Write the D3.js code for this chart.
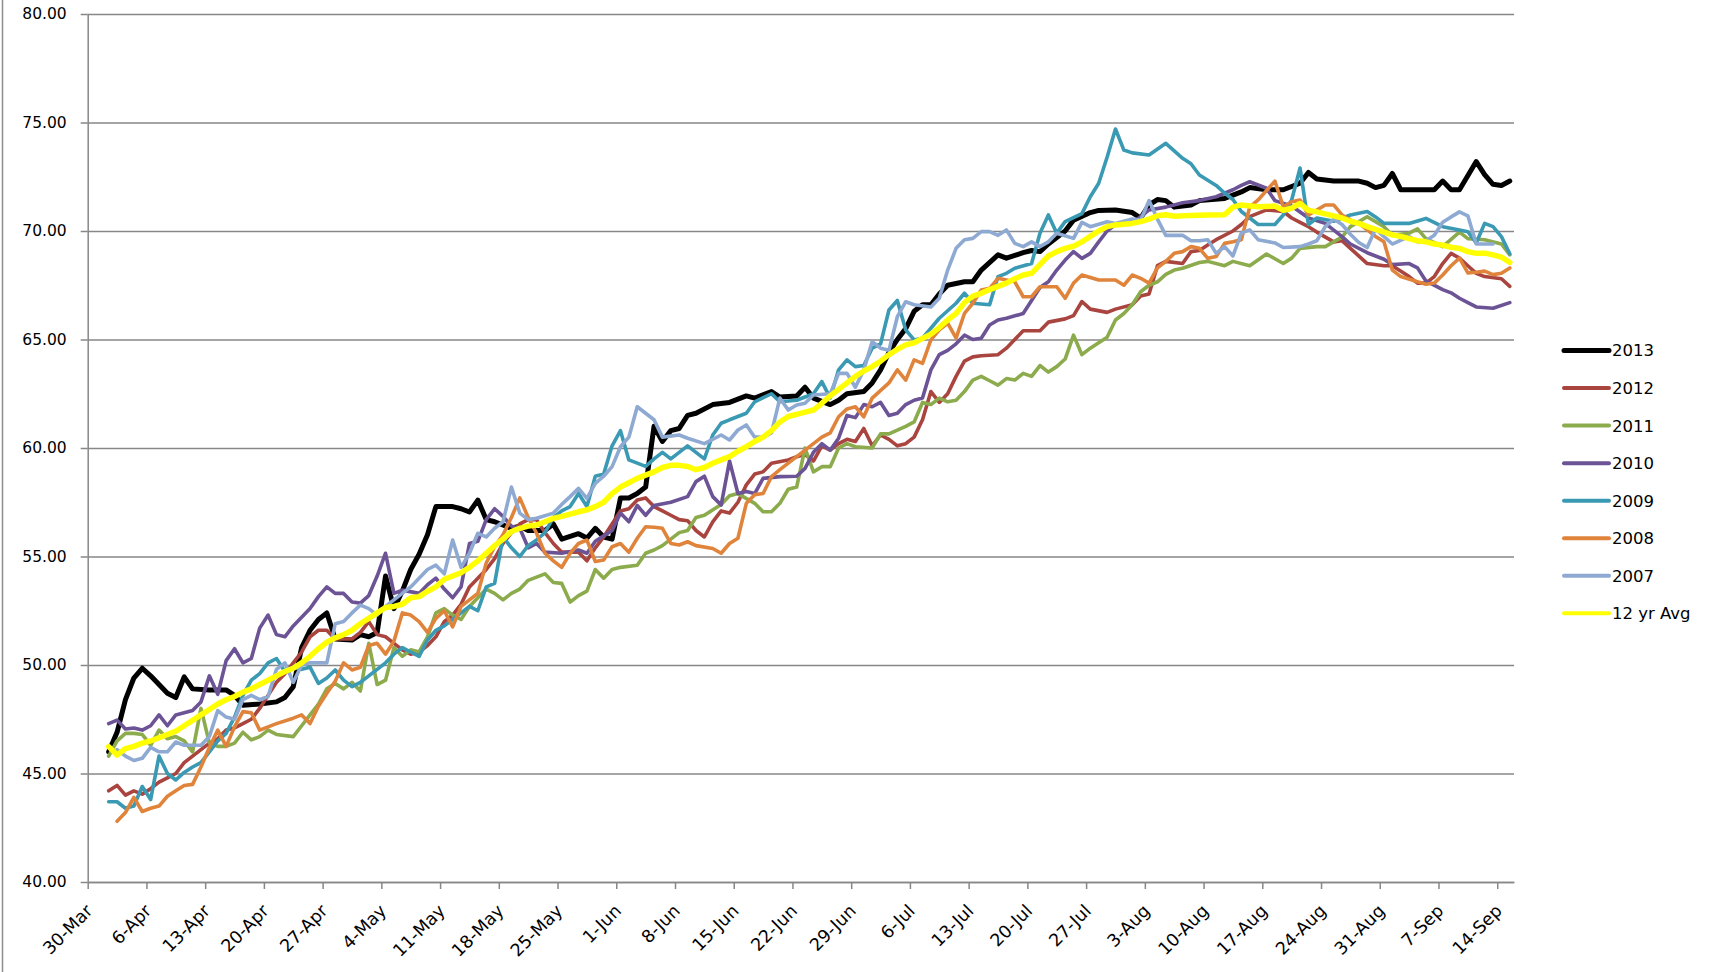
<!DOCTYPE html>
<html><head><meta charset="utf-8">
<script src="https://cdn.jsdelivr.net/npm/d3@7"></script>
<style>html,body{margin:0;padding:0;background:#fff;overflow:hidden}svg{display:block}</style>
</head><body>
<svg id="chart" width="1711" height="972"></svg>
<script>
// ---- data (day = days after 30-Mar) ----
const seriesNames = ["2013","2012","2011","2010","2009","2008","2007","12 yr Avg"];
const seriesColors = ["#000000","#a9443f","#8cab4c","#6c5395","#3a99b3","#e0843b","#8ea9d2","#ffff00"];
const tickLabels = ["30-Mar","6-Apr","13-Apr","20-Apr","27-Apr","4-May","11-May","18-May","25-May","1-Jun","8-Jun","15-Jun","22-Jun","29-Jun","6-Jul","13-Jul","20-Jul","27-Jul","3-Aug","10-Aug","17-Aug","24-Aug","31-Aug","7-Sep","14-Sep"];
const yTicks = [40,45,50,55,60,65,70,75,80];

const s2013 = [[2,46.0],[3,46.9],[4,48.4],[5,49.4],[6,49.85],[7,49.5],[8,49.1],[9,48.7],[10,48.5],[11,49.45],[12,48.9],[14,48.85],[16,48.85],[17,48.6],[18,48.15],[20,48.2],[22,48.3],[23,48.5],[24,49.0],[25,50.8],[26,51.6],[27,52.1],[28,52.4],[29,51.2],[31,51.15],[32,51.4],[33,51.3],[34,51.5],[35,54.1],[36,52.6],[37,53.4],[38,54.4],[39,55.1],[40,56.0],[41,57.3],[43,57.3],[44,57.2],[45,57.05],[46,57.6],[47,56.7],[48,56.6],[50,56.3],[51,56.4],[52,56.2],[54,56.2],[55,56.5],[56,55.8],[58,56.05],[59,55.85],[60,56.3],[61,55.9],[62,55.8],[63,57.7],[64,57.7],[65,57.9],[66,58.2],[67,61.0],[68,60.3],[69,60.8],[70,60.9],[71,61.5],[72,61.6],[74,62.0],[76,62.1],[78,62.4],[79,62.3],[81,62.6],[82,62.35],[84,62.4],[85,62.8],[86,62.3],[88,62.0],[89,62.2],[90,62.5],[92,62.6],[93,63.0],[94,63.6],[95,64.4],[96,65.0],[97,65.5],[98,66.3],[99,66.6],[100,66.6],[101,67.1],[102,67.5],[104,67.66],[105,67.66],[106,68.2],[108,68.9],[109,68.75],[111,69.0],[112,69.1],[113,69.05],[114,69.4],[116,70.0],[117,70.5],[119,70.85],[120,70.95],[122,70.97],[124,70.85],[125,70.6],[126,71.2],[127,71.45],[128,71.4],[129,71.1],[131,71.2],[132,71.4],[135,71.5],[137,71.8],[138,72.0],[140,71.9],[142,71.9],[144,72.2],[145,72.7],[146,72.4],[148,72.3],[151,72.3],[152,72.2],[153,72.0],[154,72.1],[155,72.65],[156,71.9],[160,71.9],[161,72.3],[162,71.9],[163,71.9],[165,73.2],[166,72.6],[167,72.15],[168,72.1],[169,72.3]];

const s2012 = [[2,44.2],[3,44.45],[4,44.0],[5,44.2],[6,44.05],[7,44.3],[8,44.6],[9,44.8],[10,45.0],[11,45.5],[12,45.8],[13,46.1],[14,46.4],[15,46.6],[16,47.0],[17,47.1],[18,47.3],[19,47.5],[20,48.0],[21,48.6],[22,49.2],[23,49.6],[24,50.1],[25,50.6],[26,51.3],[27,51.6],[28,51.6],[29,51.2],[31,51.2],[32,51.5],[33,52.0],[34,51.4],[35,51.3],[36,51.0],[37,50.7],[38,50.5],[39,50.6],[40,50.9],[41,51.3],[42,52.0],[43,52.3],[44,52.8],[45,53.6],[46,54.0],[47,54.4],[48,54.9],[49,55.6],[50,56.1],[51,56.5],[52,56.7],[53,56.7],[54,56.1],[55,55.6],[56,55.2],[58,55.2],[59,54.8],[60,55.4],[61,55.9],[62,56.5],[63,57.1],[64,57.2],[65,57.6],[66,57.7],[67,57.3],[68,57.1],[69,56.9],[70,56.7],[71,56.65],[72,56.2],[73,55.9],[74,56.6],[75,57.1],[76,57.0],[77,57.5],[78,58.3],[79,58.8],[80,58.9],[81,59.3],[83,59.45],[84,59.6],[85,59.7],[86,59.4],[87,60.1],[88,59.9],[89,60.2],[90,60.4],[91,60.3],[92,60.9],[93,60.1],[94,60.6],[95,60.4],[96,60.1],[97,60.2],[98,60.5],[99,61.3],[100,62.6],[101,62.1],[102,62.5],[103,63.3],[104,64.0],[105,64.2],[106,64.25],[108,64.3],[109,64.6],[110,65.0],[111,65.4],[113,65.4],[114,65.8],[116,65.95],[117,66.1],[118,66.75],[119,66.4],[121,66.25],[122,66.4],[124,66.6],[125,67.0],[126,67.1],[127,68.4],[128,68.6],[130,68.5],[131,69.05],[132,69.1],[133,69.35],[134,69.6],[136,70.0],[137,70.3],[138,70.66],[140,70.97],[142,70.9],[143,70.6],[144,70.4],[145,70.2],[146,69.95],[148,69.5],[149,69.55],[150,69.2],[152,68.5],[154,68.4],[155,68.4],[157,67.9],[158,67.6],[159,67.6],[160,67.9],[161,68.5],[162,68.97],[163,68.75],[164,68.4],[165,68.05],[166,67.9],[168,67.8],[169,67.45]];

const s2011 = [[2,45.8],[3,46.5],[4,46.85],[5,46.85],[6,46.8],[7,46.3],[8,47.0],[9,46.6],[10,46.7],[11,46.5],[12,46.0],[13,48.0],[14,46.4],[15,46.25],[16,46.25],[17,46.4],[18,46.9],[19,46.55],[20,46.7],[21,47.0],[22,46.8],[24,46.7],[25,47.2],[26,47.7],[27,48.2],[28,48.9],[29,49.15],[30,48.9],[31,49.2],[32,48.8],[33,51.0],[34,49.1],[35,49.3],[36,50.8],[37,50.4],[38,50.7],[39,50.6],[40,51.3],[41,52.4],[42,52.6],[43,52.3],[44,52.1],[45,52.7],[47,53.5],[48,53.3],[49,53.0],[50,53.3],[51,53.5],[52,53.9],[54,54.2],[55,53.8],[56,53.76],[57,52.9],[58,53.2],[59,53.4],[60,54.4],[61,54.0],[62,54.4],[63,54.5],[65,54.6],[66,55.15],[67,55.3],[68,55.5],[69,55.8],[70,56.1],[71,56.2],[72,56.8],[73,56.9],[75,57.4],[76,57.8],[77,57.9],[79,57.45],[80,57.06],[81,57.06],[82,57.45],[83,58.1],[84,58.2],[85,60.0],[86,58.9],[87,59.14],[88,59.14],[89,60.0],[90,60.2],[91,60.06],[93,60.0],[94,60.65],[95,60.65],[97,61.0],[98,61.2],[99,62.1],[100,62.0],[101,62.3],[102,62.13],[103,62.2],[104,62.6],[105,63.13],[106,63.3],[107,63.1],[108,62.9],[109,63.2],[110,63.13],[111,63.44],[112,63.3],[113,63.8],[114,63.5],[115,63.75],[116,64.1],[117,65.2],[118,64.3],[119,64.6],[121,65.1],[122,65.9],[123,66.2],[124,66.6],[125,67.2],[126,67.5],[127,67.66],[128,68.0],[129,68.2],[130,68.28],[132,68.55],[133,68.6],[135,68.4],[136,68.6],[138,68.4],[140,68.94],[142,68.5],[143,68.75],[144,69.2],[146,69.28],[147,69.28],[149,69.72],[150,70.2],[152,70.66],[154,70.2],[155,69.8],[157,69.9],[158,70.1],[159,69.65],[161,69.28],[163,69.95],[164,69.65],[166,69.6],[168,69.4],[169,68.9]];

const s2010 = [[2,47.3],[3,47.46],[4,47.05],[5,47.1],[6,47.0],[7,47.2],[8,47.7],[9,47.2],[10,47.7],[11,47.8],[12,47.9],[13,48.3],[14,49.5],[15,48.65],[16,50.2],[17,50.75],[18,50.1],[19,50.3],[20,51.7],[21,52.3],[22,51.4],[23,51.3],[24,51.8],[25,52.2],[26,52.6],[27,53.15],[28,53.6],[29,53.3],[30,53.3],[31,52.9],[32,52.85],[33,53.2],[34,54.1],[35,55.15],[36,53.3],[37,53.45],[39,53.3],[40,53.7],[41,54.0],[42,53.5],[43,53.1],[44,53.6],[45,55.6],[46,55.7],[47,56.7],[48,57.2],[49,56.85],[50,56.4],[51,56.3],[52,55.4],[53,55.6],[54,55.2],[56,55.15],[58,55.3],[59,55.15],[60,55.7],[62,56.2],[63,57.0],[64,56.6],[65,57.35],[66,56.9],[67,57.35],[69,57.5],[71,57.76],[72,58.45],[73,58.7],[74,57.76],[75,57.37],[76,59.4],[77,57.9],[78,58.0],[79,57.9],[80,58.6],[82,58.68],[84,58.7],[85,59.06],[86,59.8],[87,60.2],[88,59.9],[89,60.45],[90,61.5],[91,61.4],[92,62.0],[93,61.9],[94,62.1],[95,61.5],[96,61.6],[97,62.0],[98,62.2],[99,62.3],[100,63.6],[101,64.3],[102,64.5],[103,64.8],[104,65.2],[105,65.0],[106,65.06],[107,65.67],[108,65.9],[109,65.98],[111,66.2],[112,66.8],[113,67.4],[114,67.66],[115,68.2],[116,68.66],[117,69.05],[118,68.74],[119,68.97],[120,69.5],[121,70.0],[122,70.3],[124,70.35],[126,70.97],[128,71.1],[130,71.3],[132,71.4],[134,71.58],[136,71.9],[137,72.1],[138,72.27],[140,71.97],[141,71.4],[143,71.15],[145,70.6],[147,70.35],[149,69.74],[150,69.4],[152,69.0],[154,68.7],[155,68.45],[157,68.5],[158,68.3],[159,67.7],[161,67.3],[162,67.15],[163,66.9],[164,66.7],[165,66.5],[167,66.44],[169,66.7]];

const s2009 = [[2,43.7],[3,43.7],[4,43.4],[5,43.5],[6,44.4],[7,43.8],[8,45.8],[9,45.0],[10,44.7],[11,45.05],[12,45.3],[13,45.5],[14,46.0],[15,46.5],[16,46.85],[17,47.6],[18,48.6],[19,49.3],[20,49.6],[21,50.1],[22,50.3],[23,49.7],[24,49.9],[25,49.8],[26,49.9],[27,49.15],[28,49.4],[29,49.77],[30,49.3],[31,49.0],[32,49.2],[33,49.5],[34,49.8],[35,50.1],[36,50.5],[37,50.8],[38,50.6],[39,50.4],[40,51.15],[41,51.6],[42,51.8],[43,52.1],[44,52.4],[45,52.7],[46,52.5],[47,53.6],[48,53.76],[49,55.9],[50,55.4],[51,55.0],[52,55.5],[53,55.76],[54,56.1],[55,56.8],[56,57.1],[57,57.3],[58,57.9],[59,57.3],[60,58.7],[61,58.8],[62,60.1],[63,60.8],[64,59.45],[65,59.3],[66,59.15],[67,59.5],[68,59.8],[69,59.5],[70,59.8],[71,60.1],[72,59.8],[73,59.5],[74,60.6],[75,61.14],[76,61.3],[78,61.6],[79,62.13],[81,62.5],[82,62.13],[84,62.2],[86,62.5],[87,63.06],[88,62.3],[89,63.6],[90,64.06],[91,63.75],[92,63.8],[93,64.6],[94,64.8],[95,66.36],[96,66.8],[97,65.44],[98,64.98],[99,65.06],[101,65.98],[103,66.67],[104,67.13],[105,66.67],[107,66.6],[108,67.9],[109,68.05],[110,68.28],[112,68.5],[113,69.9],[114,70.74],[115,69.9],[116,70.43],[118,70.8],[119,71.58],[120,72.2],[121,73.4],[122,74.7],[123,73.73],[124,73.6],[126,73.5],[128,74.04],[130,73.35],[131,73.1],[132,72.58],[134,72.1],[135,71.75],[136,71.45],[137,70.9],[139,70.3],[141,70.3],[142,70.74],[143,71.43],[144,72.9],[145,70.3],[146,70.6],[148,70.45],[150,70.74],[152,70.9],[153,70.65],[154,70.35],[157,70.35],[159,70.58],[161,70.2],[163,70.05],[164,69.97],[165,69.45],[166,70.35],[167,70.2],[168,69.74],[169,68.95]];

const s2008 = [[3,42.8],[4,43.2],[5,43.9],[6,43.25],[7,43.4],[8,43.5],[9,43.95],[10,44.2],[11,44.45],[12,44.5],[13,45.3],[14,46.2],[15,47.0],[16,46.25],[17,47.15],[18,47.85],[19,47.8],[20,47.0],[22,47.3],[24,47.55],[25,47.7],[26,47.3],[27,48.1],[28,48.7],[29,49.25],[30,50.1],[31,49.77],[32,49.9],[33,50.9],[34,51.0],[35,50.5],[36,51.1],[37,52.4],[38,52.3],[39,52.0],[40,51.5],[41,52.15],[42,52.5],[43,51.76],[44,52.7],[45,53.0],[46,53.3],[47,54.7],[48,55.45],[49,56.0],[50,56.8],[51,57.7],[52,56.8],[53,56.07],[54,55.15],[55,54.8],[56,54.5],[57,55.15],[58,55.6],[59,55.76],[60,54.77],[61,54.84],[62,55.45],[63,55.6],[64,55.2],[65,55.84],[66,56.37],[67,56.35],[68,56.3],[69,55.6],[70,55.53],[71,55.68],[72,55.5],[74,55.37],[75,55.15],[76,55.6],[77,55.84],[78,57.45],[79,57.85],[80,57.9],[81,58.68],[82,59.0],[84,59.6],[86,60.2],[87,60.5],[88,60.7],[89,61.44],[90,61.8],[91,61.9],[92,61.44],[93,62.3],[95,63.0],[96,63.6],[97,63.13],[98,64.06],[99,63.9],[100,64.98],[101,65.44],[102,65.75],[103,65.06],[104,66.2],[105,66.67],[106,67.28],[107,67.36],[108,67.82],[110,67.66],[111,66.97],[112,66.97],[113,67.43],[115,67.43],[116,66.9],[117,67.6],[118,67.97],[120,67.74],[122,67.74],[123,67.5],[124,67.97],[125,67.82],[126,67.6],[127,68.3],[128,68.6],[129,68.97],[130,69.05],[131,69.28],[132,69.2],[133,68.74],[134,68.82],[135,69.43],[136,69.5],[137,69.6],[138,71.1],[139,71.43],[141,72.3],[142,71.12],[143,71.35],[144,71.43],[145,70.74],[146,70.97],[147,71.2],[148,71.2],[149,70.74],[150,70.5],[151,70.35],[152,70.05],[153,69.75],[154,69.5],[155,68.2],[156,67.9],[158,67.66],[159,67.55],[160,67.6],[161,67.97],[162,68.4],[163,68.75],[164,68.07],[165,68.1],[166,68.15],[167,67.99],[168,68.05],[169,68.3]];

const s2007 = [[3,46.1],[4,45.8],[5,45.6],[6,45.7],[7,46.2],[8,46.0],[9,46.0],[10,46.45],[11,46.3],[13,46.3],[14,46.7],[15,47.9],[16,47.6],[17,47.5],[18,48.4],[19,48.6],[20,48.4],[21,48.55],[22,49.8],[23,50.1],[24,49.2],[25,50.0],[26,50.1],[28,50.1],[29,51.9],[30,52.0],[31,52.4],[32,52.76],[33,52.6],[34,52.3],[35,52.7],[36,53.0],[38,53.6],[39,54.0],[40,54.4],[41,54.6],[42,54.2],[43,55.76],[44,54.5],[45,55.15],[46,56.07],[47,55.9],[48,56.3],[49,56.6],[50,58.2],[51,57.0],[52,56.7],[53,56.76],[55,57.0],[56,57.4],[57,57.76],[58,58.14],[59,57.68],[60,58.37],[61,58.7],[62,59.14],[63,60.06],[64,60.5],[65,61.9],[66,61.6],[67,61.3],[68,60.5],[70,60.6],[71,60.45],[73,60.2],[75,60.6],[76,60.37],[77,60.83],[78,61.06],[79,60.5],[80,60.5],[81,60.7],[82,62.3],[83,61.75],[84,61.98],[85,62.06],[86,62.44],[88,62.5],[89,63.44],[90,63.44],[91,62.8],[92,63.6],[93,64.9],[94,64.6],[95,64.5],[96,66.05],[97,66.74],[98,66.6],[100,66.5],[101,66.9],[102,68.2],[103,69.2],[104,69.6],[105,69.66],[106,69.97],[107,69.97],[108,69.8],[109,70.05],[110,69.43],[111,69.28],[112,69.5],[113,69.28],[114,69.5],[115,69.9],[117,69.66],[118,70.4],[119,70.2],[121,70.43],[122,70.35],[124,70.55],[125,70.5],[126,71.4],[127,70.55],[128,69.8],[130,69.8],[131,69.55],[132,69.55],[133,69.6],[134,68.97],[135,69.28],[136,68.85],[137,69.9],[138,70.05],[139,69.6],[141,69.45],[142,69.24],[144,69.28],[145,69.4],[146,69.55],[147,70.2],[148,70.55],[149,70.3],[150,69.85],[151,69.47],[152,69.24],[153,70.1],[154,69.74],[155,69.4],[157,69.75],[158,69.5],[159,69.55],[160,69.8],[161,70.4],[162,70.65],[163,70.88],[164,70.7],[165,69.4],[167,69.4]];

const sAvg = [[2,46.24],[3,45.85],[4,46.15],[5,46.25],[6,46.4],[7,46.5],[8,46.65],[9,46.8],[10,46.95],[11,47.2],[12,47.45],[13,47.7],[14,47.95],[15,48.2],[16,48.4],[17,48.55],[18,48.75],[19,48.9],[20,49.1],[21,49.3],[22,49.5],[23,49.7],[24,49.85],[25,50.1],[26,50.4],[27,50.75],[28,51.05],[29,51.25],[30,51.4],[31,51.6],[32,51.9],[33,52.15],[34,52.4],[35,52.65],[36,52.7],[37,52.8],[38,53.1],[39,53.15],[40,53.4],[41,53.6],[42,53.95],[43,54.1],[44,54.25],[45,54.5],[46,54.8],[47,55.15],[48,55.5],[49,55.8],[50,56.15],[51,56.3],[52,56.4],[53,56.45],[54,56.6],[55,56.76],[56,56.85],[57,56.95],[58,57.06],[59,57.15],[60,57.3],[61,57.5],[62,57.9],[63,58.2],[64,58.4],[65,58.6],[66,58.75],[67,58.9],[68,59.1],[69,59.2],[70,59.2],[71,59.15],[72,59.0],[73,59.1],[74,59.3],[75,59.45],[76,59.6],[77,59.85],[78,60.06],[79,60.3],[80,60.5],[81,60.8],[82,61.2],[83,61.45],[84,61.55],[85,61.65],[86,61.75],[87,62.06],[88,62.4],[89,62.7],[90,63.0],[91,63.3],[92,63.55],[93,63.75],[94,64.0],[95,64.3],[96,64.55],[97,64.75],[98,64.85],[99,65.05],[100,65.25],[101,65.55],[102,65.9],[103,66.2],[104,66.7],[105,67.0],[106,67.13],[107,67.3],[108,67.45],[109,67.6],[110,67.8],[111,67.97],[112,68.05],[113,68.45],[114,68.85],[115,69.05],[116,69.2],[117,69.3],[118,69.5],[119,69.75],[120,70.0],[121,70.2],[122,70.28],[124,70.35],[125,70.43],[126,70.55],[127,70.7],[128,70.75],[129,70.68],[131,70.72],[133,70.74],[135,70.75],[136,71.1],[137,71.2],[139,71.12],[141,71.15],[142,70.95],[143,71.05],[144,71.27],[145,70.95],[146,70.88],[148,70.7],[149,70.6],[150,70.45],[151,70.35],[152,70.2],[153,70.07],[154,69.95],[155,69.82],[156,69.75],[157,69.65],[158,69.55],[159,69.5],[160,69.4],[161,69.35],[162,69.25],[163,69.2],[164,69.05],[165,68.97],[166,68.98],[167,68.9],[168,68.8],[169,68.55]];

const seriesData = [s2013, s2012, s2011, s2010, s2009, s2008, s2007, sAvg];
const seriesWidths = [5, 3.6, 3.6, 3.6, 3.6, 3.6, 3.6, 5.5];

// ---- drawing ----
const svg = d3.select("#chart");
const FONT = "'DejaVu Sans', Verdana, sans-serif";
const DAY = 864e5;
const t0 = Date.UTC(2013, 2, 30);
const L = 87.7, R = 1514, T = 14, B = 882;
const x = d3.scaleUtc().domain([new Date(t0), new Date(t0 + 170 * DAY)]).range([L, R]);
const y = d3.scaleLinear().domain([40, 80]).range([B, T]);
const pointDate = d => new Date(t0 + (d + 0.5) * DAY);
const tickDates = tickLabels.map((_, i) => new Date(t0 + i * 7 * DAY));

// outer frame line at left
svg.append("line").attr("x1", 2.5).attr("x2", 2.5).attr("y1", 0).attr("y2", 972)
  .attr("stroke", "#8c8c8c").attr("stroke-width", 1.5);

// gridlines
const grid = svg.append("g").attr("transform", `translate(${L},0)`)
  .call(d3.axisLeft(y).tickValues(yTicks).tickSize(-(R - L)).tickFormat(""));
grid.select(".domain").remove();
grid.selectAll(".tick line").attr("stroke", "#878787").attr("stroke-width", 1.5);

// y axis
const yAxis = svg.append("g").attr("transform", `translate(${L},0)`)
  .call(d3.axisLeft(y).tickValues(yTicks).tickSize(7).tickSizeOuter(0).tickPadding(14).tickFormat(d => d.toFixed(2)));
yAxis.select(".domain").attr("stroke", "#878787").attr("stroke-width", 1.5);
yAxis.selectAll(".tick line").attr("stroke", "#878787").attr("stroke-width", 1.5);
yAxis.selectAll(".tick text").attr("font-family", FONT).attr("font-size", 15.5).attr("fill", "#000");

// x axis
const xAxis = svg.append("g").attr("transform", `translate(0,${B})`)
  .call(d3.axisBottom(x).tickValues(tickDates).tickSize(7).tickSizeOuter(0).tickFormat((d, i) => tickLabels[i]));
xAxis.select(".domain").attr("stroke", "#878787").attr("stroke-width", 1.5);
xAxis.selectAll(".tick line").attr("stroke", "#878787").attr("stroke-width", 1.5);
xAxis.selectAll(".tick text")
  .attr("font-family", FONT).attr("font-size", 17.5).attr("fill", "#000")
  .attr("text-anchor", "end").attr("dy", 0).attr("y", 0)
  .attr("transform", "translate(5.5,30) rotate(-45)");

// lines
const line = d3.line().x(p => x(pointDate(p[0]))).y(p => y(p[1]));
const lines = svg.append("g").attr("fill", "none").attr("stroke-linejoin", "round").attr("stroke-linecap", "round");
seriesData.forEach((s, i) => {
  lines.append("path").datum(s).attr("d", line)
    .attr("stroke", seriesColors[i]).attr("stroke-width", seriesWidths[i]);
});

// legend
const leg = svg.append("g");
seriesNames.forEach((n, i) => {
  const yy = 350.5 + i * 37.55;
  leg.append("line").attr("x1", 1564).attr("x2", 1609).attr("y1", yy).attr("y2", yy)
    .attr("stroke", seriesColors[i]).attr("stroke-width", i === 0 ? 5 : 4).attr("stroke-linecap", "round");
  leg.append("text").attr("x", 1612).attr("y", yy).attr("dy", "0.36em")
    .attr("font-family", FONT).attr("font-size", 16.5).attr("fill", "#000").text(n);
});
</script>
</body></html>
